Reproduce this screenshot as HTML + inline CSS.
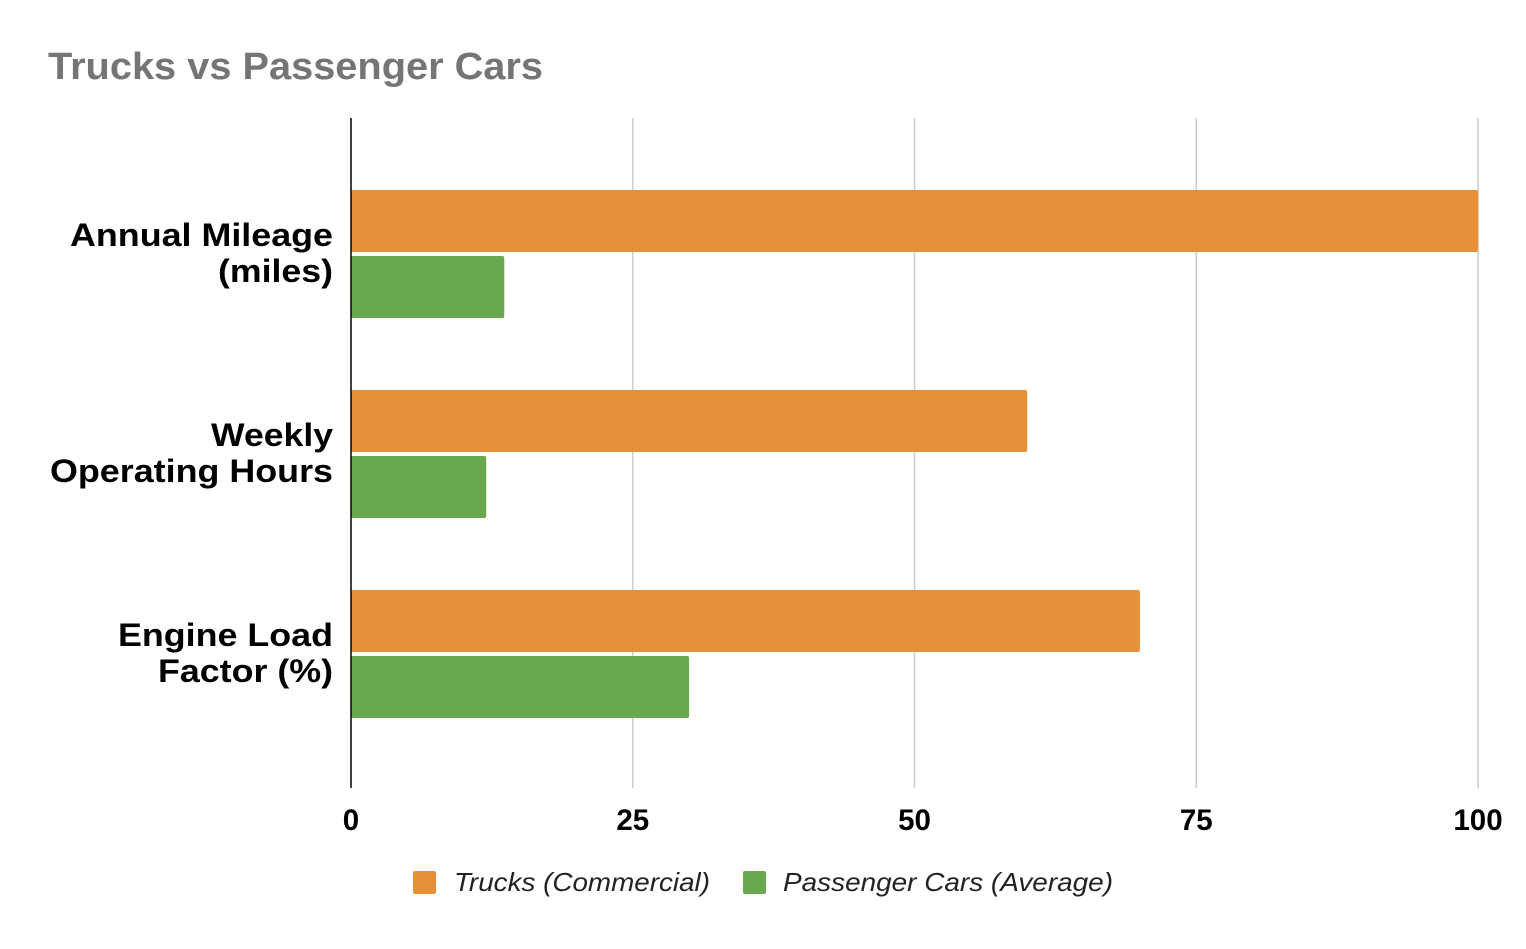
<!DOCTYPE html>
<html><head><meta charset="utf-8">
<style>
html,body{margin:0;padding:0;background:#fff;}
body{width:1526px;height:944px;overflow:hidden;font-family:"Liberation Sans",Arial,sans-serif;}
</style></head>
<body>
<svg id="chart" width="1526" height="944" xmlns="http://www.w3.org/2000/svg" font-family="Liberation Sans, Arial, sans-serif">
<text x="48" y="79" font-size="38" font-weight="bold" fill="#757575" textLength="495" lengthAdjust="spacingAndGlyphs">Trucks vs Passenger Cars</text>
<g id="grid"></g>
<g id="bars"></g>
<g id="labels"></g>
<line x1="351" y1="118" x2="351" y2="788" stroke="#000" stroke-width="1.5"/>
<g>
<rect x="413" y="871" width="23" height="23" rx="2" fill="#E69138"/>
<text x="454" y="891" font-size="26" font-style="italic" fill="#222" textLength="256" lengthAdjust="spacingAndGlyphs">Trucks (Commercial)</text>
<rect x="743" y="871" width="23" height="23" rx="2" fill="#6AA84F"/>
<text x="783" y="891" font-size="26" font-style="italic" fill="#222" textLength="330" lengthAdjust="spacingAndGlyphs">Passenger Cars (Average)</text>
</g>
</svg>
<script>
const categories = [["Annual Mileage","(miles)"],["Weekly","Operating Hours"],["Engine Load","Factor (%)"]];
const trucks = [100, 60, 70];
const cars = [13.6, 12, 30];
const ticks = [0, 25, 50, 75, 100];
const labelWidths = [[263, 115], [122, 283], [215, 175]];

const NS = "http://www.w3.org/2000/svg";
const x0 = 351, x1 = 1478, vmax = 100;
const xs = v => x0 + (v / vmax) * (x1 - x0);
const bandTop = 154, bandH = 200;
const grid = document.getElementById('grid');
const bars = document.getElementById('bars');
const labels = document.getElementById('labels');

ticks.forEach(t => {
  if (t !== 0) {
    const l = document.createElementNS(NS, 'line');
    
    
    l.setAttribute('x1', xs(t)); l.setAttribute('x2', xs(t));
    l.setAttribute('y1', 118); l.setAttribute('y2', 788);
    l.setAttribute('stroke', '#ccc'); l.setAttribute('stroke-width', '1.5');
    grid.appendChild(l);
  }
  const tx = document.createElementNS(NS, 'text');
  
  
  tx.setAttribute('x', xs(t)); tx.setAttribute('y', 830);
  tx.setAttribute('text-anchor', 'middle');
  tx.setAttribute('font-size', '29.5'); tx.setAttribute('font-weight', 'bold');
  tx.textContent = t;
  labels.appendChild(tx);
});

categories.forEach((c, i) => {
  const center = bandTop + bandH * i + bandH / 2;
  [[trucks[i], '#E69138', center - 64, 'bar-trucks'], [cars[i], '#6AA84F', center + 2, 'bar-cars']].forEach(([v, col, y, nm]) => {
    const r = document.createElementNS(NS, 'rect');
    
    
    r.setAttribute('x', x0); r.setAttribute('y', y);
    r.setAttribute('width', xs(v) - x0); r.setAttribute('height', 62);
    r.setAttribute('rx', 2); r.setAttribute('fill', col);
    bars.appendChild(r);
  });
  c.forEach((line, j) => {
    const t = document.createElementNS(NS, 'text');
    
    
    t.setAttribute('x', 333); t.setAttribute('y', center - 8 + j * 36);
    t.setAttribute('text-anchor', 'end');
    t.setAttribute('font-size', '32'); t.setAttribute('font-weight', 'bold');
    t.setAttribute('textLength', labelWidths[i][j]);
    t.setAttribute('lengthAdjust', 'spacingAndGlyphs');
    t.textContent = line;
    labels.appendChild(t);
  });
});
</script>
</body></html>
